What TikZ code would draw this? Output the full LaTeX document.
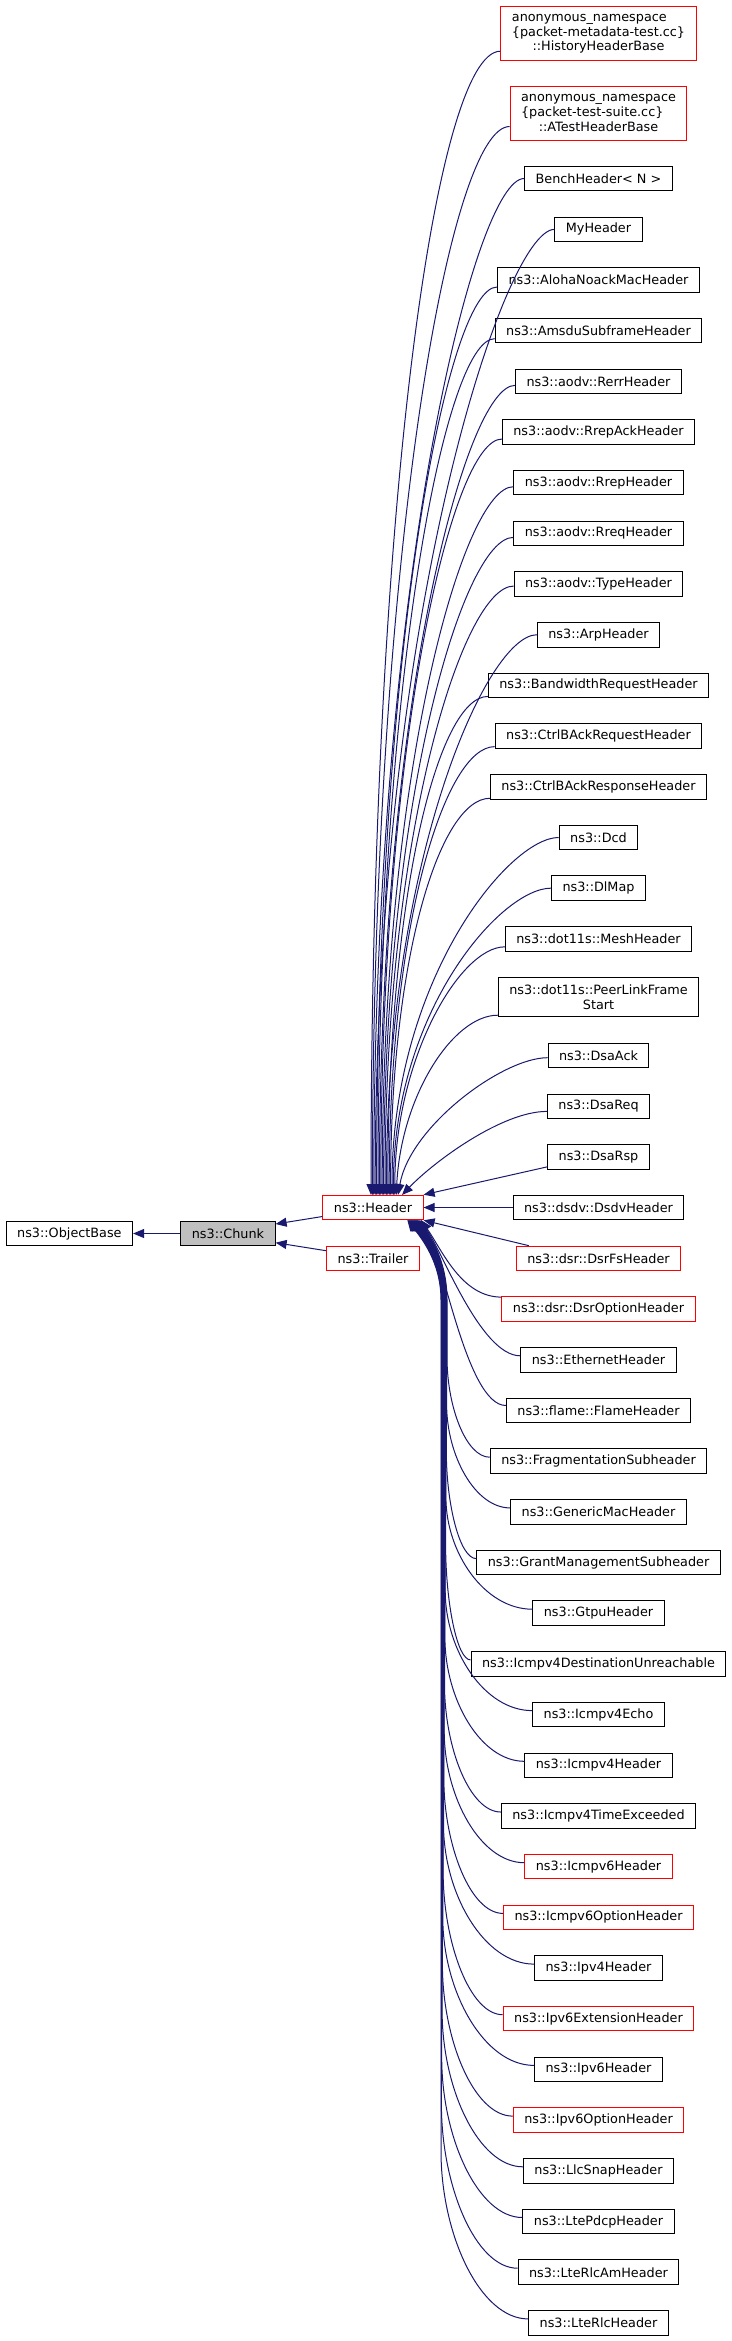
\documentclass[tikz,border=0pt]{standalone}
\usepackage{fontspec}
\newfontfamily\dvs{DejaVu Sans}
\usetikzlibrary{arrows.meta,calc}
\definecolor{edgeblue}{RGB}{25,25,112}
\definecolor{boxgray}{RGB}{191,191,191}
\tikzset{
  box/.style={draw=black, fill=white, line width=1pt, inner xsep=11pt, inner ysep=1pt,
    minimum height=24.5pt, align=center, text=black,
    font={\dvs\fontsize{12.8pt}{14.7pt}\selectfont}},
  redbox/.style={box, draw=red},
  graybox/.style={box, fill=boxgray},
  edge/.style={draw=edgeblue, line width=1pt, -{Triangle[length=11pt,width=9pt]}}
}
% top edge: node, yshift down, xe, a, f, b
\newcommand\tedge[6]{\draw[edge] let \p1=([yshift=-#2pt]#1.west) in
  (\p1) .. controls ({\x1-#4pt},\y1) and ({#3pt+#6pt},{\y1+#5*(-1195pt-(\y1))}) .. (#3,1195);}
% bottom near edge: node, yshift up, xe
\newcommand\bnear[3]{\draw[edge] let \p1=([yshift=#2pt]#1.west) in
  (\p1) .. controls ({\x1-40pt},\y1) and (442,1250) .. (#3,1220);}
% bottom far edge: node, yshift up, xv, xe, h
\newcommand\bedge[5]{\draw[edge] let \p1=([yshift=#2pt]#1.west) in
  (\p1) .. controls ({#3pt+0.45*(\x1-#3pt)},\y1) and (#3pt,{\y1+0.5*#5pt}) .. (#3pt,{\y1+#5pt})
  -- (#3,1300) .. controls (#3,1262) and ({#4+14},1238) .. (#4,1220);}
\begin{document}
\begin{tikzpicture}[x=1pt,y=-1pt]
\fill[white] (0,0) rectangle (731,2341);
\useasboundingbox (0,0) rectangle (731,2341);
% left part
\node[box] (OB) at (69.4,1233.5) {ns3::ObjectBase};
\node[graybox] (C) at (228,1233.5) {ns3::Chunk};
\node[redbox] (H) at (373,1207.5) {ns3::Header};
\node[redbox] (T) at (373,1258.5) {ns3::Trailer};
% right column
\node[redbox, minimum height=54pt] (n1) at (598.5,33.2) {\begin{tabular}{@{}l@{}}anonymous\_namespace\\\{packet-metadata-test.cc\}\\\multicolumn{1}{@{}c@{}}{::HistoryHeaderBase}\end{tabular}};
\node[redbox, minimum height=54pt] (n2) at (598.5,113.5) {\begin{tabular}{@{}l@{}}anonymous\_namespace\\\{packet-test-suite.cc\}\\\multicolumn{1}{@{}c@{}}{::ATestHeaderBase}\end{tabular}};
\node[box] (n3) at (598.5,178.5) {BenchHeader< N >};
\node[box] (n4) at (598.5,229.4) {MyHeader};
\node[box] (n5) at (598.5,280) {ns3::AlohaNoackMacHeader};
\node[box] (n6) at (598.5,330.68) {ns3::AmsduSubframeHeader};
\node[box] (n7) at (598.5,381.36) {ns3::aodv::RerrHeader};
\node[box] (n8) at (598.5,432.04) {ns3::aodv::RrepAckHeader};
\node[box] (n9) at (598.5,482.72) {ns3::aodv::RrepHeader};
\node[box] (n10) at (598.5,533.4) {ns3::aodv::RreqHeader};
\node[box] (n11) at (598.5,584.08) {ns3::aodv::TypeHeader};
\node[box] (n12) at (598.5,634.76) {ns3::ArpHeader};
\node[box] (n13) at (598.5,685.44) {ns3::BandwidthRequestHeader};
\node[box] (n14) at (598.5,736.12) {ns3::CtrlBAckRequestHeader};
\node[box] (n15) at (598.5,786.8) {ns3::CtrlBAckResponseHeader};
\node[box] (n16) at (598.5,837.48) {ns3::Dcd};
\node[box] (n17) at (598.5,888.16) {ns3::DlMap};
\node[box] (n18) at (598.5,938.84) {ns3::dot11s::MeshHeader};
\node[box, minimum height=38.7pt] (n19) at (598.5,997.2) {ns3::dot11s::PeerLinkFrame\\Start};
\node[box] (n20) at (598.5,1055.7) {ns3::DsaAck};
\node[box] (n21) at (598.5,1106.4) {ns3::DsaReq};
\node[box] (n22) at (598.5,1157.1) {ns3::DsaRsp};
\node[box] (n23) at (598.5,1207.5) {ns3::dsdv::DsdvHeader};
\node[redbox] (n24) at (598.5,1258.4) {ns3::dsr::DsrFsHeader};
\node[redbox] (n25) at (598.5,1309.1) {ns3::dsr::DsrOptionHeader};
\node[box] (n26) at (598.5,1359.8) {ns3::EthernetHeader};
\node[box] (n27) at (598.5,1410.5) {ns3::flame::FlameHeader};
\node[box] (n28) at (598.5,1461.2) {ns3::FragmentationSubheader};
\node[box] (n29) at (598.5,1511.9) {ns3::GenericMacHeader};
\node[box] (n30) at (598.5,1562.6) {ns3::GrantManagementSubheader};
\node[box] (n31) at (598.5,1613.2) {ns3::GtpuHeader};
\node[box] (n32) at (598.5,1663.9) {ns3::Icmpv4DestinationUnreachable};
\node[box] (n33) at (598.5,1714.6) {ns3::Icmpv4Echo};
\node[box] (n34) at (598.5,1765.3) {ns3::Icmpv4Header};
\node[box] (n35) at (598.5,1816.0) {ns3::Icmpv4TimeExceeded};
\node[redbox] (n36) at (598.5,1866.7) {ns3::Icmpv6Header};
\node[redbox] (n37) at (598.5,1917.4) {ns3::Icmpv6OptionHeader};
\node[box] (n38) at (598.5,1968.1) {ns3::Ipv4Header};
\node[redbox] (n39) at (598.5,2018.7) {ns3::Ipv6ExtensionHeader};
\node[box] (n40) at (598.5,2069.4) {ns3::Ipv6Header};
\node[redbox] (n41) at (598.5,2120.1) {ns3::Ipv6OptionHeader};
\node[box] (n42) at (598.5,2170.8) {ns3::LlcSnapHeader};
\node[box] (n43) at (598.5,2221.5) {ns3::LtePdcpHeader};
\node[box] (n44) at (598.5,2272.2) {ns3::LteRlcAmHeader};
\node[box] (n45) at (598.5,2322.9) {ns3::LteRlcHeader};
% left edges
\draw[edge] (C.west) -- (OB.east);
\draw[edge] ([yshift=-9pt]H.west) -- ([yshift=9.5pt]C.east);
\draw[edge] ([yshift=7.8pt]T.west) -- ([yshift=-9.2pt]C.east);
% top edges
\tedge{n1}{18}{371}{65}{0.4}{0}
\tedge{n2}{13}{372.4}{60}{0.4}{0}
\tedge{n3}{0}{373.8}{50}{0.4}{0}
\tedge{n4}{0}{375.2}{50}{0.4}{0}
\tedge{n5}{7}{376.6}{50}{0.4}{0}
\tedge{n6}{8}{378}{50}{0.4}{0}
\tedge{n7}{4}{379.4}{50}{0.4}{0}
\tedge{n8}{7}{380.8}{50}{0.4}{0}
\tedge{n9}{4}{382.2}{50}{0.4}{0}
\tedge{n10}{4}{383.6}{50}{0.4}{0}
\tedge{n11}{2}{385}{50}{0.4}{0}
\tedge{n12}{0}{386.4}{50}{0.4}{0}
\tedge{n13}{11}{387.8}{50}{0.4}{0}
\tedge{n14}{10.5}{389.2}{50}{0.4}{0}
\tedge{n15}{11.5}{390.6}{50}{0.4}{0}
\tedge{n16}{0}{392}{50}{0.4}{0}
\tedge{n17}{0}{393.4}{50}{0.4}{0}
\tedge{n18}{8}{394.8}{45}{0.45}{0}
\tedge{n19}{18}{396.2}{45}{0.45}{5}
\tedge{n20}{2}{398}{45}{0.5}{12}
\tedge{n21}{5}{402}{45}{0.6}{32}
\draw[edge] ([yshift=3pt]n22.south west) -- (H.north east);
\draw[edge] (n23.west) -- (H.east);
\draw[edge] ([xshift=13pt]n24.north west) -- (H.south east);
% bottom edges
\bnear{n25}{12}{421}
\bnear{n26}{4}{419.5}
\bnear{n27}{5}{418.5}
\bedge{n28}{4}{447}{417.5}{100}
\bedge{n29}{4}{446.6}{416.9}{104}
\bedge{n30}{4}{446.3}{416.3}{108}
\bedge{n31}{4}{445.9}{415.7}{112}
\bedge{n32}{4}{445.6}{415.1}{116}
\bedge{n33}{4}{445.2}{414.5}{120}
\bedge{n34}{4}{444.9}{413.9}{124}
\bedge{n35}{4}{444.5}{413.3}{128}
\bedge{n36}{4}{444.2}{412.7}{132}
\bedge{n37}{4}{443.8}{412.1}{136}
\bedge{n38}{4}{443.5}{411.5}{140}
\bedge{n39}{4}{443.1}{410.9}{144}
\bedge{n40}{4}{442.8}{410.3}{148}
\bedge{n41}{4}{442.4}{409.7}{152}
\bedge{n42}{4}{442.1}{409.1}{156}
\bedge{n43}{4}{441.7}{408.5}{160}
\bedge{n44}{4}{441.4}{407.9}{164}
\bedge{n45}{4}{441}{407.3}{168}
\end{tikzpicture}
\end{document}
